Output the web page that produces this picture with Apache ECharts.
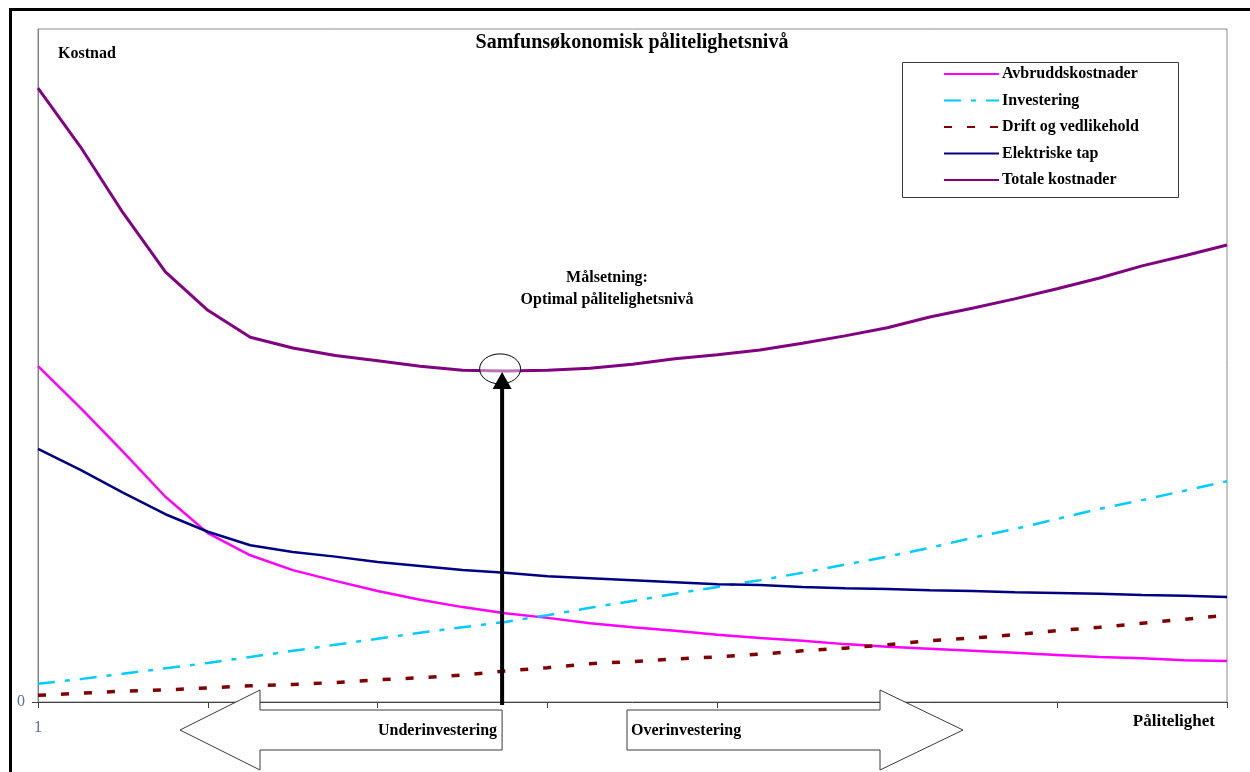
<!DOCTYPE html>
<html>
<head>
<meta charset="utf-8">
<script src="https://cdn.jsdelivr.net/npm/echarts@6/dist/echarts.min.js"></script>
<style>
  html, body { margin: 0; padding: 0; background: #ffffff; }
  #chart { width: 1250px; height: 772px; }
</style>
</head>
<body>
<div id="chart"></div>
<script>
// Reliability levels along the x axis (only the first one is labelled)
const categories = ['1','2','3','4','5','6','7','8','9','10','11','12','13','14','15',
  '16','17','18','19','20','21','22','23','24','25','26','27','28','29'];

// Cost components (relative units, 0 at the x axis)
const avbruddskostnader = [49.9, 43.7, 37.2, 30.5, 25.1, 21.8, 19.6, 18.0, 16.5, 15.2, 14.1, 13.2, 12.5, 11.7, 11.1,
  10.6, 10.0, 9.5, 9.1, 8.6, 8.2, 7.9, 7.6, 7.3, 7.0, 6.7, 6.5, 6.2, 6.1];
const investering = [2.7, 3.4, 4.2, 5.0, 5.8, 6.7, 7.6, 8.5, 9.4, 10.3, 11.1, 11.9, 12.9, 14.0, 15.0,
  16.1, 17.1, 18.1, 19.2, 20.4, 21.6, 22.9, 24.4, 25.7, 27.2, 28.7, 30.0, 31.4, 32.8];
const driftOgVedlikehold = [1.0, 1.3, 1.6, 1.8, 2.1, 2.4, 2.6, 2.9, 3.3, 3.6, 4.0, 4.6, 5.1, 5.7, 6.0,
  6.4, 6.7, 7.1, 7.6, 8.0, 8.5, 9.1, 9.5, 10.0, 10.6, 11.1, 11.7, 12.3, 12.9];
const elektriskeTap = [37.6, 34.5, 31.1, 27.9, 25.3, 23.3, 22.3, 21.6, 20.8, 20.2, 19.6, 19.2, 18.7, 18.4, 18.1,
  17.8, 17.5, 17.4, 17.1, 16.9, 16.8, 16.6, 16.5, 16.3, 16.2, 16.1, 15.9, 15.8, 15.6];
const totaleKostnader = [91.2, 82.5, 72.7, 63.9, 58.2, 54.2, 52.6, 51.5, 50.7, 49.9, 49.3, 49.2, 49.3, 49.6, 50.2,
  51.0, 51.6, 52.3, 53.3, 54.4, 55.6, 57.2, 58.5, 59.9, 61.4, 63.0, 64.8, 66.3, 67.9];

const yTickValues = [0];
const seriesNames = ['Avbruddskostnader', 'Investering', 'Drift og vedlikehold', 'Elektriske tap', 'Totale kostnader'];

const FONT = '"Liberation Serif", "Times New Roman", serif';
const boldFont = (size) => 'bold ' + size + 'px ' + FONT;

const chart = echarts.init(document.getElementById('chart'), null, { renderer: 'canvas' });

function lineSeries(name, data, color, width, type) {
  return {
    name: name,
    type: 'line',
    data: data,
    symbol: 'none',
    showSymbol: false,
    smooth: false,
    lineStyle: { color: color, width: width, type: type || 'solid' },
    itemStyle: { color: color },
    emphasis: { disabled: true }
  };
}

chart.setOption({
  animation: false,
  backgroundColor: '#ffffff',
  title: {
    text: 'Samfunsøkonomisk pålitelighetsnivå',
    left: 632,
    top: 33,
    padding: 0,
    textAlign: 'center',
    textStyle: { fontFamily: FONT, fontWeight: 'bold', fontSize: 20, color: '#000000' }
  },
  legend: {
    orient: 'vertical',
    left: 943,
    top: 66,
    padding: 0,
    itemWidth: 55,
    itemHeight: 16,
    itemGap: 10.5,
    data: seriesNames,
    selectedMode: false,
    // line-only keys: hide the marker drawn in the middle of each key
    itemStyle: { color: 'rgba(0,0,0,0)', borderColor: 'rgba(0,0,0,0)', borderWidth: 0 },
    textStyle: { fontFamily: FONT, fontWeight: 'bold', fontSize: 16, color: '#000000', padding: [0, 0, 0, -2] }
  },
  grid: {
    left: 38, top: 29, right: 23, bottom: 70,
    show: true, borderColor: '#8a8a8a', borderWidth: 1,
    containLabel: false
  },
  xAxis: {
    type: 'category',
    data: categories,
    boundaryGap: false,
    axisLine: { show: true, lineStyle: { color: '#404040', width: 1 } },
    axisTick: { show: true, interval: 3, length: 6, lineStyle: { color: '#404040' } },
    axisLabel: {
      interval: (i) => i === 0,
      margin: 18,
      fontFamily: FONT, fontSize: 16, color: '#5b6f94'
    },
    splitLine: { show: false }
  },
  yAxis: {
    type: 'value',
    min: 0,
    max: 100,
    interval: 100,
    axisLine: { show: true, lineStyle: { color: '#808080', width: 1 } },
    axisTick: { show: true, length: 6, customValues: yTickValues, lineStyle: { color: '#404040' } },
    axisLabel: {
      customValues: yTickValues,
      margin: 13,
      fontFamily: FONT, fontSize: 16, color: '#5b6f94'
    },
    splitLine: { show: false }
  },
  series: [
    lineSeries(seriesNames[0], avbruddskostnader, '#ff00ff', 2.5),
    lineSeries(seriesNames[1], investering, '#00ccff', 2.5, [17, 10, 5, 10]),
    lineSeries(seriesNames[2], driftOgVedlikehold, '#800000', 3.5, [8, 15]),
    lineSeries(seriesNames[3], elektriskeTap, '#000080', 2.5),
    lineSeries(seriesNames[4], totaleKostnader, '#800080', 3)
  ]
});

// Annotations anchored to the minimum of the total cost curve
const minValue = Math.min.apply(null, totaleKostnader);
const minIdx = totaleKostnader.indexOf(minValue);
const [px, py] = chart.convertToPixel({ xAxisIndex: 0, yAxisIndex: 0 }, [minIdx, minValue]);
const [, axisY] = chart.convertToPixel({ xAxisIndex: 0, yAxisIndex: 0 }, [0, 0]);

const edge = '#3a3a3a';
const shaftTop = axisY + 8, shaftBottom = axisY + 48;
const headTop = axisY - 12, headBottom = axisY + 68, shaftMid = axisY + 28;

function text(str, x, y, size, align) {
  return {
    type: 'text', z: 20,
    style: { text: str, x: x, y: y, font: boldFont(size), fill: '#000000', align: align || 'left', verticalAlign: 'middle' }
  };
}

chart.setOption({
  graphic: [
    // outer frame
    { type: 'rect', z: 0, silent: true,
      shape: { x: 10.5, y: 9.5, width: 1400, height: 900 },
      style: { fill: 'none', stroke: '#000000', lineWidth: 3 } },
    // legend frame
    { type: 'rect', z: 1, silent: true,
      shape: { x: 902.5, y: 62.5, width: 276, height: 135 },
      style: { fill: '#ffffff', stroke: edge, lineWidth: 1 } },
    text('Kostnad', 58, 54, 16),
    text('Pålitelighet', 1215, 722, 17, 'right'),
    text('Målsetning:', 607, 278, 16, 'center'),
    text('Optimal pålitelighetsnivå', 607, 300, 16, 'center'),
    // marker around the optimum
    { type: 'ellipse', z: 15, silent: true,
      shape: { cx: px - 5, cy: py - 2, rx: 20.5, ry: 15 },
      style: { fill: 'rgba(255,255,255,0.45)', stroke: '#000000', lineWidth: 1 } },
    // vertical arrow pointing to the optimum
    { type: 'line', z: 16, silent: true,
      shape: { x1: px - 3, y1: axisY + 3, x2: px - 3, y2: py + 16 },
      style: { stroke: '#000000', lineWidth: 4 } },
    { type: 'polygon', z: 16, silent: true,
      shape: { points: [[px - 3, py + 1], [px - 12.5, py + 18], [px + 6.5, py + 18]] },
      style: { fill: '#000000' } },
    // block arrow pointing left
    { type: 'polygon', z: 12, silent: true,
      shape: { points: [[180, shaftMid], [260, headTop], [260, shaftTop], [px - 3, shaftTop],
        [px - 3, shaftBottom], [260, shaftBottom], [260, headBottom]] },
      style: { fill: '#ffffff', stroke: edge, lineWidth: 1 } },
    // block arrow pointing right
    { type: 'polygon', z: 12, silent: true,
      shape: { points: [[627, shaftTop], [880, shaftTop], [880, headTop], [963, shaftMid],
        [880, headBottom], [880, shaftBottom], [627, shaftBottom]] },
      style: { fill: '#ffffff', stroke: edge, lineWidth: 1 } },
    text('Underinvestering', px - 8, shaftMid + 1, 16, 'right'),
    text('Overinvestering', 631, shaftMid + 1, 16, 'left')
  ]
});
</script>
</body>
</html>
